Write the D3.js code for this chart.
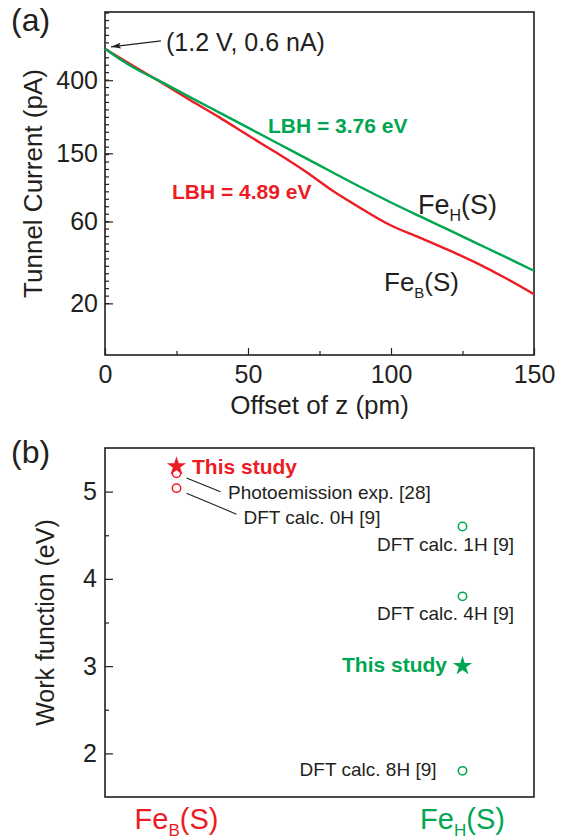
<!DOCTYPE html>
<html>
<head>
<meta charset="utf-8">
<script src="https://cdnjs.cloudflare.com/ajax/libs/d3/7.8.5/d3.min.js"></script>
<style>
  body { margin: 0; background: #fff; }
  text { font-family: "Liberation Sans", Arial, Helvetica, sans-serif; }
</style>
</head>
<body>
<div id="chart"></div>
<script>
// ---- panel (a) data: tunnel current (pA) vs offset of z (pm)
var zOffset    = [0, 5, 12, 20, 30, 40, 50, 60, 70, 80, 90, 100, 110, 120, 130, 140, 150];
var currentFeH = [610, 534, 454, 389, 317, 259, 211.6, 172.8, 141.1, 115.2, 94.1, 77.5, 64.5, 53.8, 44.8, 37.3, 31.0];
var currentFeB = [610, 543, 462, 385, 305, 243, 191, 151, 117.8, 89.7, 70.8, 56.9, 48.4, 41.0, 34.3, 28.1, 22.6];
var xTicksA = [0, 50, 100, 150];
var xMinorA = [25, 75, 125];
var yTicksA = [400, 150, 60, 20];

// ---- panel (b) data: work function (eV)
var categories = ["FeB(S)", "FeH(S)"];
var wfCategory = ["FeB(S)", "FeB(S)", "FeB(S)", "FeH(S)", "FeH(S)", "FeH(S)", "FeH(S)"];
var wfValue    = [5.29, 5.21, 5.04, 4.6, 3.8, 3.0, 1.8];
var wfKind     = ["star", "circle", "circle", "circle", "circle", "star", "circle"];
var wfLabel    = ["This study", "Photoemission exp. [28]", "DFT calc. 0H [9]",
                  "DFT calc. 1H [9]", "DFT calc. 4H [9]", "This study", "DFT calc. 8H [9]"];
var yTicksB = [2, 3, 4, 5];
var yMinorB = [2.5, 3.5, 4.5];

var red = "#ed1c24", green = "#00a651", ink = "#231f20";

var svg = d3.select("#chart")
  .append("svg")
  .attr("width", 567)
  .attr("height", 840);

var plotW = 429;

// ================= panel (a) =================
var hA = 343;
var gA = svg.append("g").attr("transform", "translate(105, 12)");

var xA = d3.scaleLinear().domain([0, 150]).range([0, plotW]);
var yA = d3.scaleLog().domain([10, 1000]).range([hA, 0]);

// minor ticks, evenly spaced in ln(I)
var yMinorA = d3.range(30, 70).map(function(k) { return Math.exp(k / 10); });

function styleAxis(g) {
  g.select(".domain").remove();
  g.selectAll("line").attr("stroke", ink).attr("stroke-width", 1.2);
  g.selectAll("text").attr("fill", ink).style("font-size", "25px");
}

gA.append("g")
  .attr("transform", `translate(0, ${hA})`)
  .call(d3.axisBottom(xA).tickValues(xMinorA).tickSize(-4).tickFormat(""))
  .call(styleAxis);
gA.append("g")
  .attr("transform", `translate(0, ${hA})`)
  .call(d3.axisBottom(xA).tickValues(xTicksA).tickSize(-7).tickPadding(10).tickFormat(d3.format("d")))
  .call(styleAxis);

gA.append("g")
  .call(d3.axisLeft(yA).tickValues(yMinorA).tickSize(-4).tickFormat(""))
  .call(styleAxis);
gA.append("g")
  .call(d3.axisLeft(yA).tickValues(yTicksA).tickSize(-8).tickPadding(7).tickFormat(d3.format("d")))
  .call(styleAxis);

gA.append("rect")
  .attr("width", plotW).attr("height", hA)
  .attr("fill", "none").attr("stroke", ink).attr("stroke-width", 1.6);

var lineA = d3.line()
  .x(function(d) { return xA(d[0]); })
  .y(function(d) { return yA(d[1]); })
  .curve(d3.curveCatmullRom.alpha(0.5));

gA.append("path")
  .datum(d3.zip(zOffset, currentFeB))
  .attr("d", lineA)
  .attr("fill", "none").attr("stroke", red).attr("stroke-width", 2.4);
gA.append("path")
  .datum(d3.zip(zOffset, currentFeH))
  .attr("d", lineA)
  .attr("fill", "none").attr("stroke", green).attr("stroke-width", 2.4);

// arrow to the set point
svg.append("defs").append("marker")
  .attr("id", "arrowhead")
  .attr("viewBox", "0 0 10 6")
  .attr("refX", 10).attr("refY", 3)
  .attr("markerWidth", 10).attr("markerHeight", 6)
  .attr("markerUnits", "userSpaceOnUse")
  .attr("orient", "auto")
  .append("path").attr("d", "M0,0 L10,3 L0,6 L2,3 Z").attr("fill", ink);

var x0 = xA(zOffset[0]), y0 = yA(currentFeB[0]);
gA.append("line")
  .attr("x1", x0 + 56).attr("y1", y0 - 8)
  .attr("x2", x0 + 6).attr("y2", y0 - 2)
  .attr("stroke", ink).attr("stroke-width", 1.3)
  .attr("marker-end", "url(#arrowhead)");

gA.append("text")
  .attr("x", 61).attr("y", 39)
  .attr("fill", ink).style("font-size", "25px")
  .text("(1.2 V, 0.6 nA)");

gA.append("text")
  .attr("x", 163).attr("y", 121)
  .attr("fill", green).style("font-size", "21px").style("font-weight", "bold")
  .text("LBH = 3.76 eV");
gA.append("text")
  .attr("x", 67).attr("y", 187)
  .attr("fill", red).style("font-size", "21px").style("font-weight", "bold")
  .text("LBH = 4.89 eV");

function feLabel(g, x, y, sub, size, subSize, color, anchor) {
  var t = g.append("text")
    .attr("x", x).attr("y", y)
    .attr("fill", color).style("font-size", size + "px")
    .attr("text-anchor", anchor || "start");
  t.append("tspan").text("Fe");
  t.append("tspan").attr("dy", size * 0.25).style("font-size", subSize + "px").text(sub);
  t.append("tspan").attr("dy", -size * 0.25).text("(S)");
  return t;
}
feLabel(gA, 313, 202, "H", 27, 16, ink);
feLabel(gA, 279, 279, "B", 26, 15, ink);

svg.append("text")
  .attr("x", 105 + plotW / 2).attr("y", 414)
  .attr("text-anchor", "middle")
  .attr("fill", ink).style("font-size", "26px")
  .text("Offset of z (pm)");

svg.append("text")
  .attr("transform", `translate(42, ${12 + hA / 2}) rotate(-90)`)
  .attr("text-anchor", "middle")
  .attr("fill", ink).style("font-size", "26px")
  .text("Tunnel Current (pA)");

svg.append("text")
  .attr("x", 11).attr("y", 31)
  .attr("fill", ink).style("font-size", "32px")
  .text("(a)");

// ================= panel (b) =================
var hB = 349;
var gB = svg.append("g").attr("transform", "translate(105, 448)");

var xB = d3.scalePoint().domain(categories).range([0, plotW]).padding(0.25);
var yB = d3.scaleLinear().domain([1.5, 5.5]).range([hB, 0]);

gB.append("g")
  .call(d3.axisLeft(yB).tickValues(yMinorB).tickSize(-4).tickFormat(""))
  .call(styleAxis);
gB.append("g")
  .call(d3.axisLeft(yB).tickValues(yTicksB).tickSize(-8).tickPadding(8).tickFormat(d3.format("d")))
  .call(styleAxis);

gB.append("rect")
  .attr("width", plotW).attr("height", hB)
  .attr("fill", "none").attr("stroke", ink).attr("stroke-width", 1.6);

function catColor(c) { return c === categories[0] ? red : green; }

var points = d3.range(wfValue.length).map(function(i) {
  return { cat: wfCategory[i], v: wfValue[i], kind: wfKind[i], label: wfLabel[i] };
});

// label placement relative to each point
var labelLayout = [
  { dx: 15.5, dy: 7.7, anchor: "start", bold: true },
  { dx: 51.5, dy: 25.7, anchor: "start", leader: [10, 4.7, 44, 18.4] },
  { dx: 67, dy: 36, anchor: "start", leader: [10, 5, 60, 26] },
  { dx: 51.5, dy: 24.2, anchor: "end" },
  { dx: 51.5, dy: 23.7, anchor: "end" },
  { dx: -15.5, dy: 5.5, anchor: "end", bold: true },
  { dx: -26, dy: 5.5, anchor: "end" }
];

var star = d3.symbol().type(d3.symbolStar).size(115);

points.forEach(function(p, i) {
  var px = xB(p.cat), py = yB(p.v), col = catColor(p.cat), lay = labelLayout[i];
  if (p.kind === "star") {
    gB.append("path")
      .attr("d", star)
      .attr("transform", `translate(${px}, ${py})`)
      .attr("fill", col);
  } else {
    gB.append("circle")
      .attr("cx", px).attr("cy", py).attr("r", 4.2)
      .attr("fill", "none").attr("stroke", col).attr("stroke-width", 1.5);
  }
  if (lay.leader) {
    gB.append("line")
      .attr("x1", px + lay.leader[0]).attr("y1", py + lay.leader[1])
      .attr("x2", px + lay.leader[2]).attr("y2", py + lay.leader[3])
      .attr("stroke", ink).attr("stroke-width", 1.1);
  }
  gB.append("text")
    .attr("x", px + lay.dx).attr("y", py + lay.dy)
    .attr("text-anchor", lay.anchor)
    .attr("fill", lay.bold ? col : ink)
    .style("font-size", lay.bold ? "21px" : "19px")
    .style("font-weight", lay.bold ? "bold" : "normal")
    .text(p.label);
});

// category labels below panel (b)
categories.forEach(function(c) {
  feLabel(svg, 105 + xB(c), 829, c.charAt(2), 29, 17, catColor(c), "middle");
});

svg.append("text")
  .attr("transform", `translate(54, ${448 + hB / 2}) rotate(-90)`)
  .attr("text-anchor", "middle")
  .attr("fill", ink).style("font-size", "25px")
  .text("Work function (eV)");

svg.append("text")
  .attr("x", 11).attr("y", 463)
  .attr("fill", ink).style("font-size", "32px")
  .text("(b)");
</script>
</body>
</html>
